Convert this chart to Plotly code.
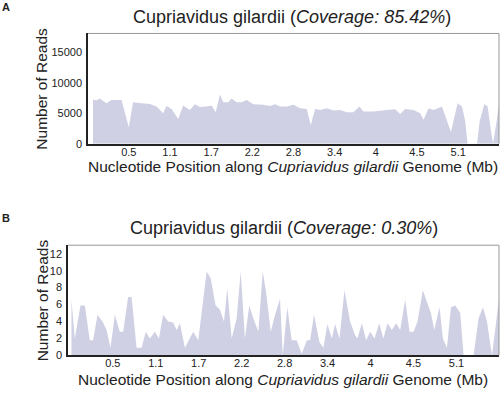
import plotly.graph_objects as go

# ---------------- data ----------------
tick_pos = [0.5, 1.075, 1.65, 2.225, 2.8, 3.375, 3.95, 4.525, 5.1]
tick_labels = ["0.5", "1.1", "1.7", "2.2", "2.8", "3.4", "4", "4.5", "5.1"]

a_pos = [0.0, 0.048, 0.094, 0.188, 0.258, 0.398, 0.5, 0.56, 0.678, 0.794, 0.887, 0.98, 1.027,
         1.097, 1.19, 1.259, 1.353, 1.423, 1.493, 1.587, 1.657, 1.713, 1.773, 1.819, 1.889,
         1.936, 2.006, 2.076, 2.146, 2.238, 2.378, 2.472, 2.542, 2.612, 2.706, 2.798, 2.892,
         2.985, 3.041, 3.101, 3.171, 3.265, 3.357, 3.451, 3.545, 3.637, 3.721, 3.777, 3.917,
         4.01, 4.104, 4.22, 4.29, 4.36, 4.476, 4.57, 4.616, 4.686, 4.756, 4.873, 4.92, 4.999,
         5.092, 5.153, 5.199, 5.231, 5.363, 5.399, 5.465, 5.511, 5.559, 5.587, 5.643, 5.67]
a_reads = [7280, 7100, 7440, 6630, 7170, 7170, 2700, 6800, 6630, 6520, 6100, 5020, 6200,
           5720, 4050, 6280, 5550, 6470, 6050, 6100, 6300, 5180, 8090, 6800, 6800,
           7440, 6800, 6800, 7170, 6470, 6400, 6200, 6500, 6100, 6100, 6400, 5830,
           5720, 3020, 5720, 5550, 5830, 5450, 5550, 5180, 5180, 6100, 5290, 5290,
           5450, 5550, 5670, 4900, 5720, 5550, 5020, 3930, 5830, 5550, 6100, 4480, 1940,
           6630, 6100, 3670, 0, 0, 3670, 6520, 6100, 2050, 0, 4200, 6630]

b_pos = [-0.054, -0.009, 0.067, 0.125, 0.192, 0.236, 0.295, 0.37, 0.416, 0.469, 0.527, 0.594,
         0.638, 0.705, 0.751, 0.818, 0.885, 0.942, 0.996, 1.063, 1.117, 1.174, 1.241, 1.308,
         1.354, 1.398, 1.465, 1.577, 1.644, 1.756, 1.81, 1.876, 1.934, 1.988, 2.032, 2.091,
         2.158, 2.212, 2.269, 2.327, 2.381, 2.448, 2.507, 2.551, 2.614, 2.672, 2.739, 2.775,
         2.836, 2.895, 2.962, 3.029, 3.097, 3.141, 3.194, 3.266, 3.319, 3.373, 3.432, 3.476,
         3.534, 3.601, 3.677, 3.744, 3.775, 3.834, 3.891, 3.945, 4.003, 4.066, 4.123, 4.177,
         4.236, 4.294, 4.347, 4.414, 4.472, 4.526, 4.579, 4.651, 4.705, 4.759, 4.803, 4.874,
         4.919, 4.973, 5.027, 5.084, 5.151, 5.196, 5.33, 5.397, 5.456, 5.509, 5.576, 5.634, 5.67]
b_reads = [6.6, 2.0, 5.9, 5.9, 1.8, 1.8, 4.8, 3.9, 3.0, 0.9, 4.8, 2.8,
           2.8, 6.9, 6.9, 0.9, 0.9, 2.8, 2.0, 2.8, 2.0, 4.8, 4.0, 3.9,
           3.0, 3.8, 0.9, 2.8, 1.8, 9.9, 9.1, 5.9, 5.4, 4.0, 7.9, 2.0,
           4.4, 9.9, 2.0, 5.9, 4.4, 2.8, 9.9, 7.5, 2.8, 4.8, 6.7, 0,
           5.7, 1.8, 1.8, 0.2, 1.8, 1.8, 4.8, 1.6, 0.9, 3.7, 2.0, 3.7,
           2.0, 7.7, 4.0, 2.4, 2.0, 3.8, 1.8, 2.8, 2.0, 3.8, 2.0, 3.8,
           3.0, 3.8, 3.0, 6.6, 2.8, 2.8, 4.0, 7.7, 6.3, 5.0, 3.0, 5.7,
           2.0, 0.9, 5.7, 5.9, 5.0, 0, 0, 4.4, 5.7, 4.0, 0, 4.0, 6.7]

a_yticks = [0, 5000, 10000, 15000]
b_yticks = [0, 2, 4, 6, 8, 10, 12]

titles = ["Cupriavidus gilardii (<i>Coverage: 85.42%</i>)",
          "Cupriavidus gilardii (<i>Coverage: 0.30%</i>)"]
x_title = "Nucleotide Position along <i>Cupriavidus gilardii</i> Genome (Mb)"
y_title = "Number of Reads"
panel_labels = ["A", "B"]

# ---------------- figure ----------------
FONT = "Liberation Sans, Arial, sans-serif"
FILL = "#cfd0e3"
W, H = 500, 393

fig = go.Figure()
fig.add_trace(go.Scatter(x=a_pos, y=a_reads, mode="lines", fill="tozeroy",
                         fillcolor=FILL, line=dict(width=0, color=FILL),
                         xaxis="x", yaxis="y", hoverinfo="skip"))
fig.add_trace(go.Scatter(x=b_pos, y=b_reads, mode="lines", fill="tozeroy",
                         fillcolor=FILL, line=dict(width=0, color=FILL),
                         xaxis="x2", yaxis="y2", hoverinfo="skip"))


def px_x(p):
    return p / W


def px_y(p):
    return 1 - p / H


axis_common = dict(showgrid=False, zeroline=False, showline=True, linecolor="#222",
                   linewidth=1.5, ticks="",
                   tickfont=dict(family=FONT, size=11, color="#222"))

fig.update_layout(
    width=W, height=H, margin=dict(l=0, r=0, t=0, b=0),
    paper_bgcolor="white", plot_bgcolor="white", showlegend=False,
    xaxis=dict(domain=[px_x(88), px_x(499)], range=[-0.07, 5.67], anchor="y",
               tickvals=tick_pos, ticktext=tick_labels, ticklabelstandoff=-3, **axis_common),
    yaxis=dict(domain=[px_y(146), px_y(34)], range=[0, 18100], anchor="x",
               tickvals=a_yticks, tickformat="d", ticklabelstandoff=2, **axis_common),
    xaxis2=dict(domain=[px_x(68), px_x(499)], range=[-0.10, 5.67], anchor="y2",
                tickvals=tick_pos, ticktext=tick_labels, ticklabelstandoff=-3, **axis_common),
    yaxis2=dict(domain=[px_y(361), px_y(249)], range=[0, 13.0], anchor="x2",
                tickvals=b_yticks, tickformat="d", ticklabelstandoff=2, **axis_common),
)

# gray top/right frame
for xr, yr in (("x domain", "y domain"), ("x2 domain", "y2 domain")):
    fig.add_shape(type="line", xref=xr, yref=yr, x0=0, x1=1, y0=1, y1=1,
                  line=dict(color="#999", width=1))
    fig.add_shape(type="line", xref=xr, yref=yr, x0=1, x1=1, y0=0, y1=1,
                  line=dict(color="#999", width=1))

ann = []
ann.append(dict(text=titles[0], x=px_x(292), y=px_y(17), font=dict(size=18)))
ann.append(dict(text=titles[1], x=px_x(284), y=px_y(232), font=dict(size=18)))
ann.append(dict(text=x_title, x=px_x(293), y=px_y(169), font=dict(size=15.5)))
ann.append(dict(text=x_title, x=px_x(283), y=px_y(385), font=dict(size=15.5)))
ann.append(dict(text=y_title, x=px_x(42), y=px_y(90), font=dict(size=15.5), textangle=-90))
ann.append(dict(text=y_title, x=px_x(42), y=px_y(305), font=dict(size=15.5), textangle=-90))
ann.append(dict(text="<b>" + panel_labels[0] + "</b>", x=px_x(6), y=px_y(7), font=dict(size=11)))
ann.append(dict(text="<b>" + panel_labels[1] + "</b>", x=px_x(6), y=px_y(221), font=dict(size=11)))

for a in ann:
    a.update(xref="paper", yref="paper", showarrow=False, xanchor="center", yanchor="middle")
    a["font"].update(family=FONT, color="#222")
    fig.add_annotation(**a)

fig.write_html("out.html", config={"displayModeBar": False},
               post_script="document.body.style.margin='0';document.body.style.overflow='hidden';")
